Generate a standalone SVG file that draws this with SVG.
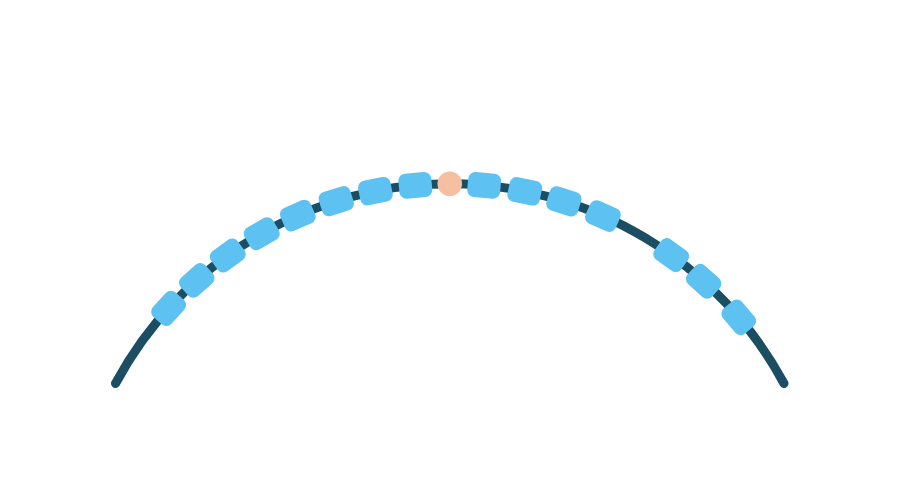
<svg xmlns="http://www.w3.org/2000/svg" width="900" height="502" viewBox="0 0 900 502">
<style>
.seg{fill:#5DC1F1;}
.link{fill:none;stroke:#1C4E63;stroke-width:9;stroke-linecap:round;}
.apex{fill:#F7BFA2;}
</style>
<rect width="900" height="502" fill="#FFFFFF"/>
<g id="connectors">
<path class="link" d="M115.5 383.5 A379.5 379.5 0 0 1 784 383.5"/>
</g>
<g id="node-l8"><rect class="seg" x="433.25" y="171.3" width="33" height="25" rx="7" transform="rotate(-47.8 449.75 563.3)"/></g>
<g id="node-l7"><rect class="seg" x="433.25" y="171.3" width="33" height="25" rx="7" transform="rotate(-41.8 449.75 563.3)"/></g>
<g id="node-l6"><rect class="seg" x="433.25" y="171.3" width="33" height="25" rx="7" transform="rotate(-35.8 449.75 563.3)"/></g>
<g id="node-l5"><rect class="seg" x="433.25" y="171.3" width="33" height="25" rx="7" transform="rotate(-29.7 449.75 563.3)"/></g>
<g id="node-l4"><rect class="seg" x="433.25" y="171.3" width="33" height="25" rx="7" transform="rotate(-23.6 449.75 563.3)"/></g>
<g id="node-l3"><rect class="seg" x="433.25" y="171.3" width="33" height="25" rx="7" transform="rotate(-17.4 449.75 563.3)"/></g>
<g id="node-l2"><rect class="seg" x="433.25" y="171.3" width="33" height="25" rx="7" transform="rotate(-11.3 449.75 563.3)"/></g>
<g id="node-l1"><rect class="seg" x="433.25" y="171.3" width="33" height="25" rx="7" transform="rotate(-5.2 449.75 563.3)"/></g>
<g id="node-apex"><circle class="apex" cx="449.75" cy="183.8" r="12.3"/></g>
<g id="node-r1"><rect class="seg" x="433.25" y="171.3" width="33" height="25" rx="7" transform="rotate(5.2 449.75 563.3)"/></g>
<g id="node-r2"><rect class="seg" x="433.25" y="171.3" width="33" height="25" rx="7" transform="rotate(11.4 449.75 563.3)"/></g>
<g id="node-r3"><rect class="seg" x="433.25" y="171.3" width="33" height="25" rx="7" transform="rotate(17.5 449.75 563.3)"/></g>
<g id="node-r4"><rect class="seg" x="433.25" y="171.3" width="33" height="25" rx="7" transform="rotate(23.8 449.75 563.3)"/></g>
<g id="node-r5"><rect class="seg" x="433.25" y="171.3" width="33" height="25" rx="7" transform="rotate(35.7 449.75 563.3)"/></g>
<g id="node-r6"><rect class="seg" x="433.25" y="171.3" width="33" height="25" rx="7" transform="rotate(42.0 449.75 563.3)"/></g>
<g id="node-r7"><rect class="seg" x="433.25" y="171.3" width="33" height="25" rx="7" transform="rotate(49.6 449.75 563.3)"/></g>
</svg>
